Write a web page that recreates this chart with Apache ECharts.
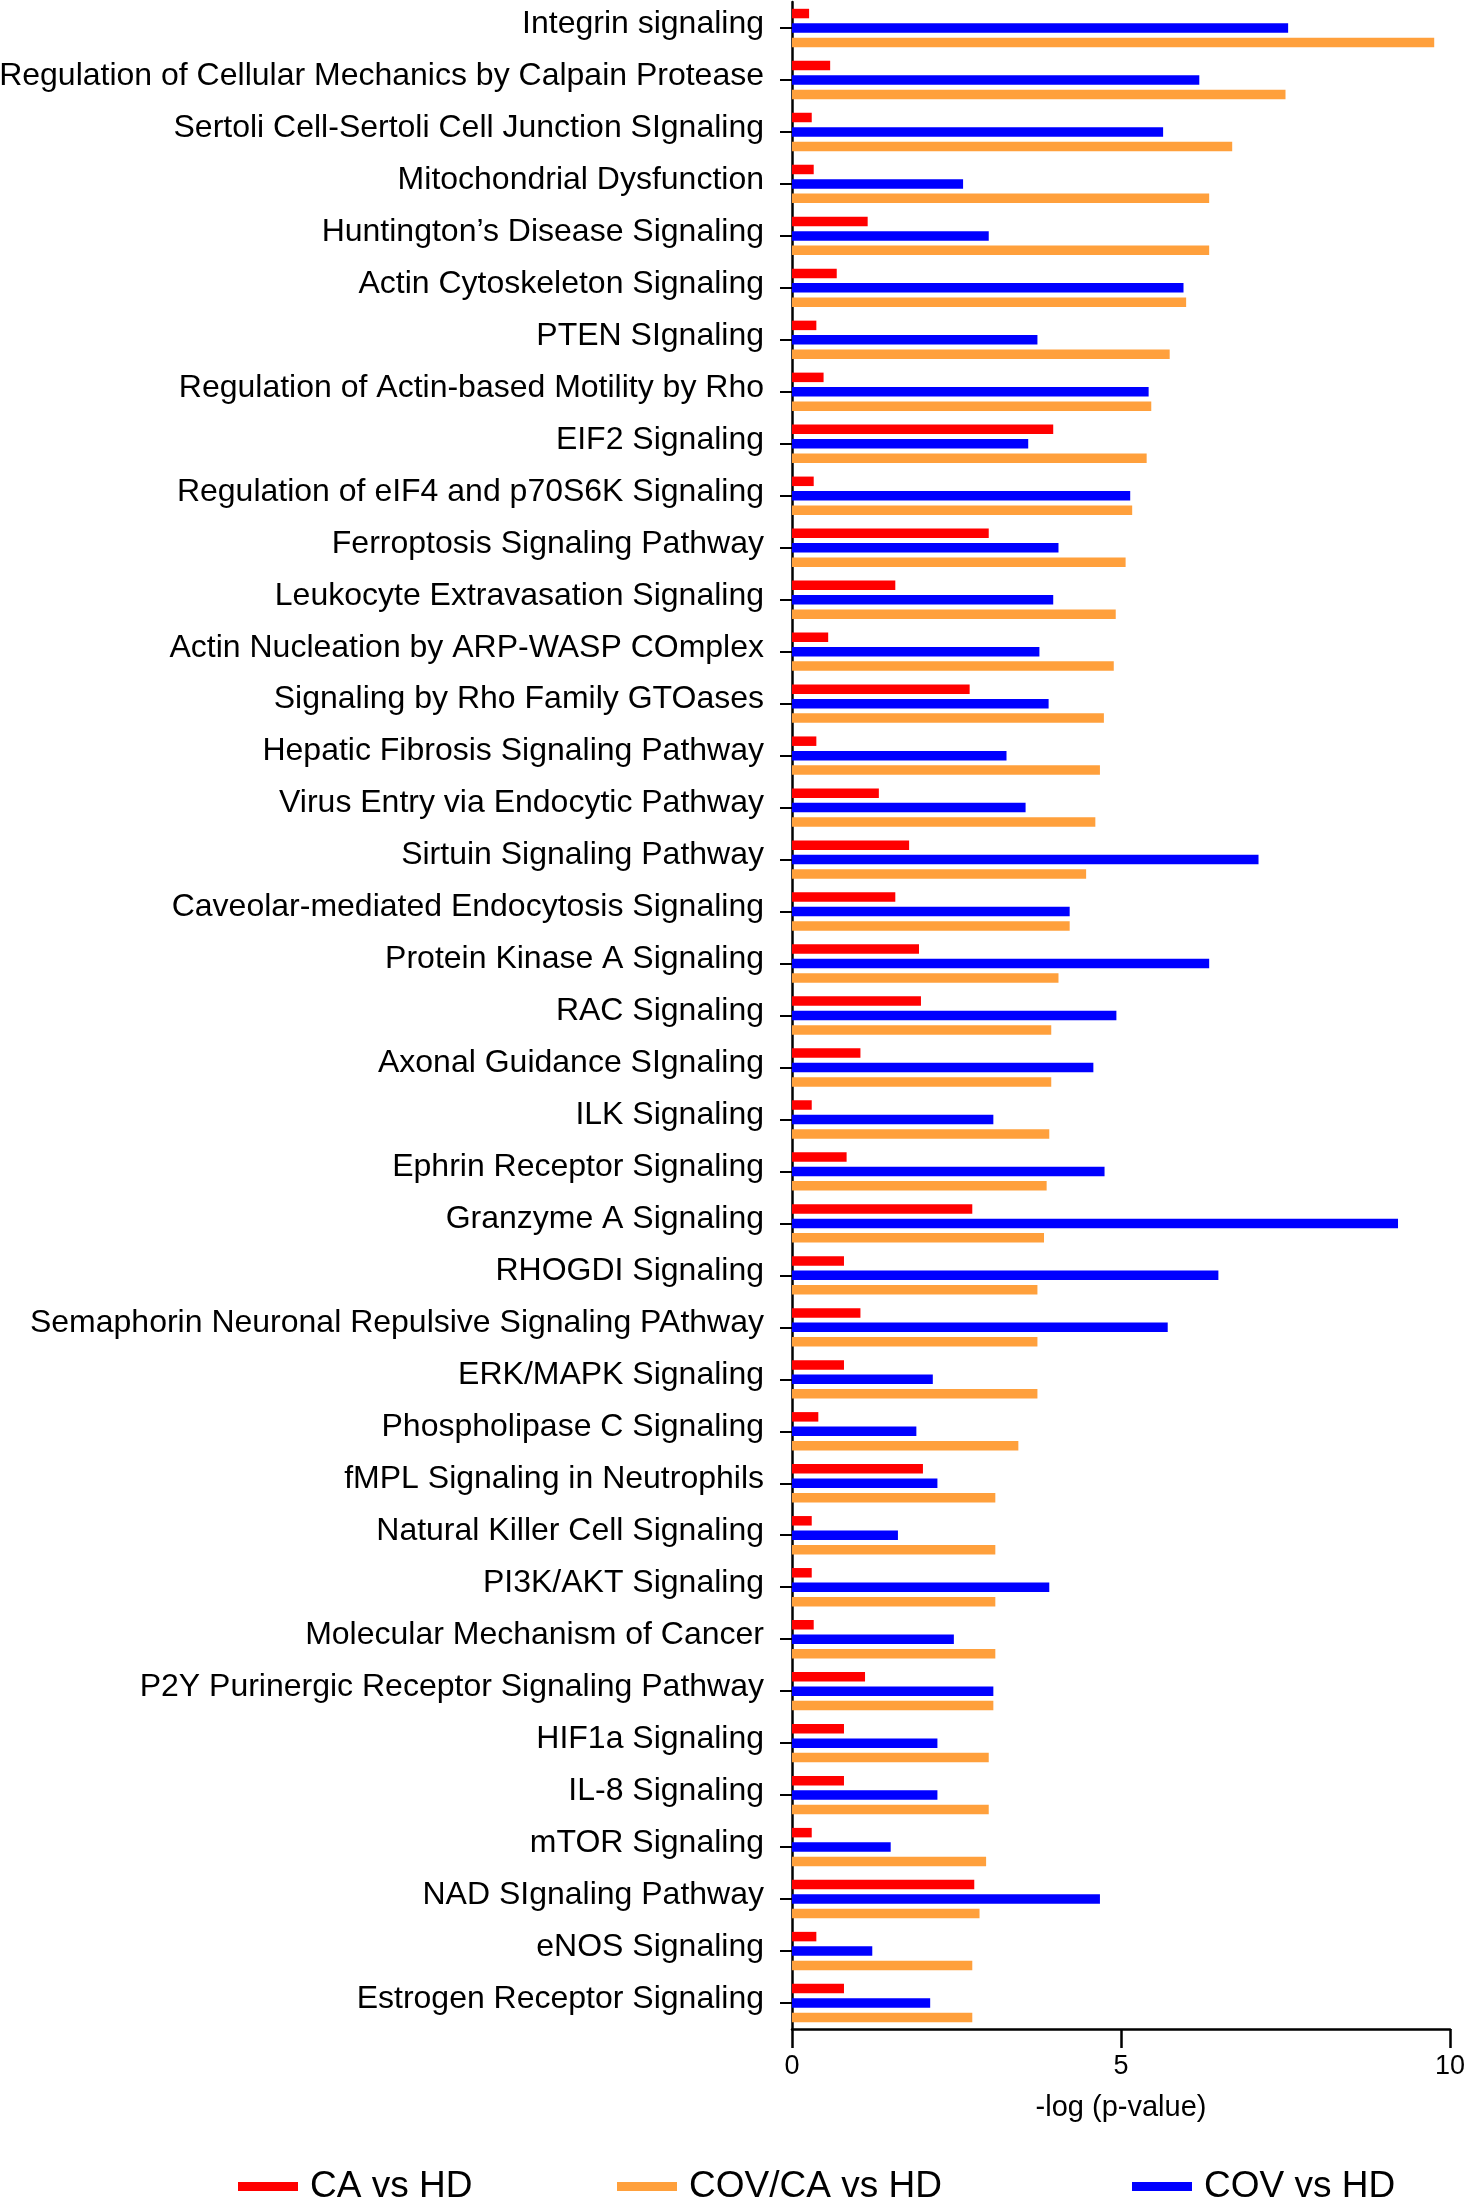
<!DOCTYPE html>
<html lang="en" style="height: 100%;width: 100%">
<head>
    <meta charset="utf-8">
</head>
<body style="height: 100%;width: 100%; margin: 0; background: #fff">
<div id="container" style="height: 100%;width: 100%;"></div>

<script type="text/javascript" src="https://cdn.jsdelivr.net/npm/echarts@6/dist/echarts.min.js"></script>
<script type="text/javascript">
    // pathways, top to bottom
    var pathways = [
        'Integrin signaling',
        'Regulation of Cellular Mechanics by Calpain Protease',
        'Sertoli Cell-Sertoli Cell Junction SIgnaling',
        'Mitochondrial Dysfunction',
        'Huntington\u2019s Disease Signaling',
        'Actin Cytoskeleton Signaling',
        'PTEN SIgnaling',
        'Regulation of Actin-based Motility by Rho',
        'EIF2 Signaling',
        'Regulation of eIF4 and p70S6K Signaling',
        'Ferroptosis Signaling Pathway',
        'Leukocyte Extravasation Signaling',
        'Actin Nucleation by ARP-WASP COmplex',
        'Signaling by Rho Family GTOases',
        'Hepatic Fibrosis Signaling Pathway',
        'Virus Entry via Endocytic Pathway',
        'Sirtuin Signaling Pathway',
        'Caveolar-mediated Endocytosis Signaling',
        'Protein Kinase A Signaling',
        'RAC Signaling',
        'Axonal Guidance SIgnaling',
        'ILK Signaling',
        'Ephrin Receptor Signaling',
        'Granzyme A Signaling',
        'RHOGDI Signaling',
        'Semaphorin Neuronal Repulsive Signaling PAthway',
        'ERK/MAPK Signaling',
        'Phospholipase C Signaling',
        'fMPL Signaling in Neutrophils',
        'Natural Killer Cell Signaling',
        'PI3K/AKT Signaling',
        'Molecular Mechanism of Cancer',
        'P2Y Purinergic Receptor Signaling Pathway',
        'HIF1a Signaling',
        'IL-8 Signaling',
        'mTOR Signaling',
        'NAD SIgnaling Pathway',
        'eNOS Signaling',
        'Estrogen Receptor Signaling'
    ];

    // -log(p-value) per comparison
    var caVsHd = [
        0.26, 0.58, 0.30, 0.33, 1.15, 0.68, 0.37, 0.48, 3.97, 0.33,
        2.99, 1.57, 0.55, 2.70, 0.37, 1.32, 1.78, 1.57, 1.93, 1.96,
        1.04, 0.30, 0.83, 2.74, 0.79, 1.04, 0.79, 0.40, 1.99, 0.30,
        0.30, 0.33, 1.11, 0.79, 0.79, 0.30, 2.77, 0.37, 0.79
    ];
    var covVsHd = [
        7.54, 6.19, 5.64, 2.60, 2.99, 5.95, 3.73, 5.42, 3.59, 5.14,
        4.05, 3.97, 3.76, 3.90, 3.26, 3.55, 7.09, 4.22, 6.34, 4.93,
        4.58, 3.06, 4.75, 9.21, 6.48, 5.71, 2.14, 1.89, 2.21, 1.61,
        3.91, 2.46, 3.06, 2.21, 2.21, 1.50, 4.68, 1.22, 2.10
    ];
    var covCaVsHd = [
        9.76, 7.50, 6.69, 6.34, 6.34, 5.99, 5.74, 5.46, 5.39, 5.17,
        5.07, 4.92, 4.89, 4.74, 4.68, 4.61, 4.47, 4.22, 4.05, 3.94,
        3.94, 3.91, 3.87, 3.83, 3.73, 3.73, 3.73, 3.44, 3.09, 3.09,
        3.09, 3.09, 3.06, 2.99, 2.99, 2.95, 2.85, 2.74, 2.74
    ];

    var xTicks = [0, 5, 10];

    var dom = document.getElementById('container');
    var myChart = echarts.init(dom, null, {renderer: 'canvas'});

    var font = '"Liberation Sans", Arial, sans-serif';

    function legendAt(name, left) {
        return {
            data: [name],
            left: left,
            top: 2163,
            icon: 'rect',
            itemWidth: 60,
            itemHeight: 9,
            textStyle: {
                color: '#000',
                fontFamily: font,
                fontSize: 37,
                padding: [0, 0, 0, 7]
            }
        };
    }

    function barSeries(name, values, color) {
        return {
            name: name,
            type: 'bar',
            data: values,
            barWidth: 9.5,
            barGap: '52%',
            itemStyle: {color: color},
            animation: false
        };
    }

    var option = {
        backgroundColor: '#fff',
        animation: false,
        grid: {
            left: 792,
            right: 19,
            top: 2,
            bottom: 168,
            containLabel: false,
            outerBoundsMode: 'none'
        },
        legend: [
            legendAt('CA vs HD', 233),
            legendAt('COV/CA vs HD', 612),
            legendAt('COV vs HD', 1127)
        ],
        xAxis: {
            type: 'value',
            min: 0,
            max: 10,
            interval: 5,
            name: '-log (p-value)',
            nameLocation: 'middle',
            nameGap: 64,
            nameTextStyle: {color: '#000', fontFamily: font, fontSize: 29},
            axisLine: {show: true, lineStyle: {color: '#000', width: 2.5}},
            axisTick: {show: true, length: 19, lineStyle: {color: '#000', width: 2.5}},
            axisLabel: {
                color: '#000',
                fontFamily: font,
                fontSize: 27,
                margin: 24,
                formatter: function (v) {
                    return xTicks.indexOf(v) >= 0 ? String(v) : '';
                }
            },
            splitLine: {show: false}
        },
        yAxis: {
            type: 'category',
            data: pathways,
            inverse: true,
            axisLine: {show: true, lineStyle: {color: '#000', width: 2.5}},
            axisTick: {show: true, alignWithLabel: true, length: 12, lineStyle: {color: '#000', width: 2}},
            axisLabel: {
                margin: 28,
                interval: 0,
                formatter: function (v) {
                    return '{p|' + v + '}';
                },
                rich: {
                    p: {
                        color: '#000',
                        fontFamily: font,
                        fontSize: 32,
                        padding: [0, 0, 8, 0]
                    }
                }
            }
        },
        series: [
            barSeries('CA vs HD', caVsHd, '#FF0000'),
            barSeries('COV vs HD', covVsHd, '#0000FF'),
            barSeries('COV/CA vs HD', covCaVsHd, '#FFA03C')
        ]
    };

    myChart.setOption(option);
</script>
</body>
</html>
